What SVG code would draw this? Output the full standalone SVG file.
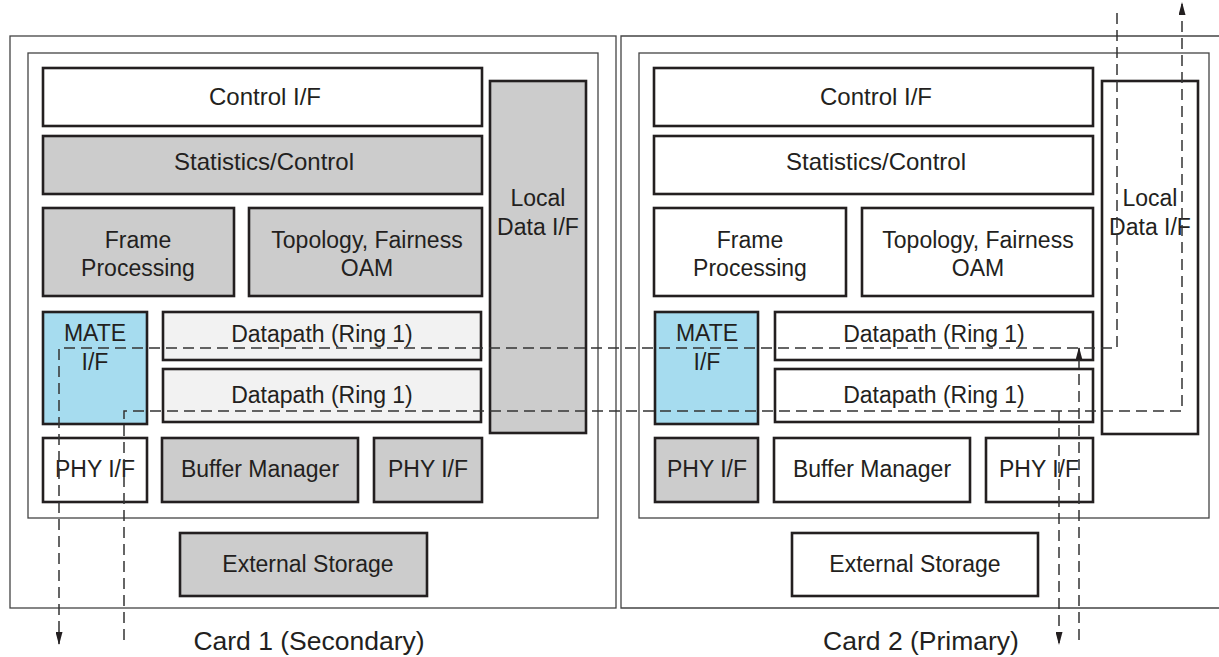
<svg xmlns="http://www.w3.org/2000/svg" width="1219" height="657" viewBox="0 0 1219 657">
<style>
.frame{fill:none;stroke:#444;stroke-width:1.3}
.box{stroke:#231f20;stroke-width:2.6}
.w{fill:#ffffff}.g{fill:#cccccc}.lg{fill:#f2f2f2}.b{fill:#a6dcef}
text{font-family:"Liberation Sans",Arial,sans-serif;font-size:23px;fill:#231f20;text-anchor:middle}
.lbl{font-size:26.5px}
.dash{fill:none;stroke:#333;stroke-width:1.5;stroke-dasharray:11 6}
</style>
<defs>
<marker id="ah" viewBox="0 0 13 7" refX="12" refY="3.5" markerWidth="13" markerHeight="7" markerUnits="userSpaceOnUse" orient="auto">
<path d="M0,0 L13,3.5 L0,7 z" fill="#231f20"/>
</marker>
</defs>
<rect width="1219" height="657" fill="#ffffff"/>
<g id="card1">
<rect class="frame" x="10" y="36" width="606" height="572"/>
<rect class="frame" x="28" y="53" width="570" height="465"/>
<text class="lbl" x="309" y="650">Card 1 (Secondary)</text>
</g>
<g id="card2">
<path class="frame" d="M1219,36 H621 V608 H1219"/>
<rect class="frame" x="639" y="53" width="570" height="465"/>
<text class="lbl" x="921" y="650">Card 2 (Primary)</text>
</g>
<g id="c1-control"><rect class="box w" x="43" y="68" width="439" height="58"/><text x="265" y="105" style="font-size:24px">Control I/F</text></g>
<g id="c1-stats"><rect class="box g" x="43" y="136" width="439" height="58"/><text x="264" y="170" style="font-size:24px">Statistics/Control</text></g>
<g id="c1-frame"><rect class="box g" x="43" y="208" width="191" height="88"/><text x="138" y="248">Frame</text><text x="138" y="276">Processing</text></g>
<g id="c1-topo"><rect class="box g" x="249" y="208" width="233" height="88"/><text x="367" y="248">Topology, Fairness</text><text x="367" y="276">OAM</text></g>
<g id="c1-local"><rect class="box g" x="490" y="81" width="96" height="352"/><text x="538" y="206">Local</text><text x="538" y="235">Data I/F</text></g>
<g id="c1-mate"><rect class="box b" x="43" y="312" width="104" height="112"/><text x="95" y="341">MATE</text><text x="95" y="370">I/F</text></g>
<g id="c1-dp1"><rect class="box lg" x="163" y="312" width="318" height="48"/><text x="322" y="342">Datapath (Ring 1)</text></g>
<g id="c1-dp2"><rect class="box lg" x="163" y="369" width="318" height="53"/><text x="322" y="403">Datapath (Ring 1)</text></g>
<g id="c1-phy1"><rect class="box w" x="43" y="438" width="104" height="64"/><text x="95" y="477">PHY I/F</text></g>
<g id="c1-buf"><rect class="box g" x="162" y="438" width="196" height="64"/><text x="260" y="477">Buffer Manager</text></g>
<g id="c1-phy2"><rect class="box g" x="374" y="438" width="108" height="64"/><text x="428" y="477">PHY I/F</text></g>
<g id="c1-ext"><rect class="box g" x="180" y="533" width="247" height="63"/><text x="308" y="572">External Storage</text></g>
<g id="c2-control"><rect class="box w" x="654" y="68" width="439" height="58"/><text x="876" y="105" style="font-size:24px">Control I/F</text></g>
<g id="c2-stats"><rect class="box w" x="654" y="136" width="439" height="58"/><text x="876" y="170" style="font-size:24px">Statistics/Control</text></g>
<g id="c2-frame"><rect class="box w" x="654" y="208" width="192" height="88"/><text x="750" y="248">Frame</text><text x="750" y="276">Processing</text></g>
<g id="c2-topo"><rect class="box w" x="862" y="208" width="231" height="88"/><text x="978" y="248">Topology, Fairness</text><text x="978" y="276">OAM</text></g>
<g id="c2-local"><rect class="box w" x="1102" y="81" width="96" height="353"/><text x="1150" y="206">Local</text><text x="1150" y="235">Data I/F</text></g>
<g id="c2-mate"><rect class="box b" x="655" y="312" width="103" height="112"/><text x="707" y="341">MATE</text><text x="707" y="370">I/F</text></g>
<g id="c2-dp1"><rect class="box w" x="775" y="312" width="318" height="48"/><text x="934" y="342">Datapath (Ring 1)</text></g>
<g id="c2-dp2"><rect class="box w" x="775" y="369" width="318" height="53"/><text x="934" y="403">Datapath (Ring 1)</text></g>
<g id="c2-phy1"><rect class="box g" x="655" y="438" width="103" height="64"/><text x="707" y="477">PHY I/F</text></g>
<g id="c2-buf"><rect class="box w" x="774" y="438" width="196" height="64"/><text x="872" y="477">Buffer Manager</text></g>
<g id="c2-phy2"><rect class="box w" x="986" y="438" width="107" height="64"/><text x="1039" y="477">PHY I/F</text></g>
<g id="c2-ext"><rect class="box w" x="792" y="533" width="246" height="63"/><text x="915" y="572">External Storage</text></g>
<g id="connectors">
<path class="dash" d="M1117,13 V348 H59 V644" marker-end="url(#ah)"/>
<path class="dash" d="M124,640 V411 H1182 V3" marker-end="url(#ah)"/>
<path class="dash" d="M1059,411 V644" marker-end="url(#ah)"/>
<path class="dash" d="M1079,640 V348" marker-end="url(#ah)"/>
</g>
</svg>
